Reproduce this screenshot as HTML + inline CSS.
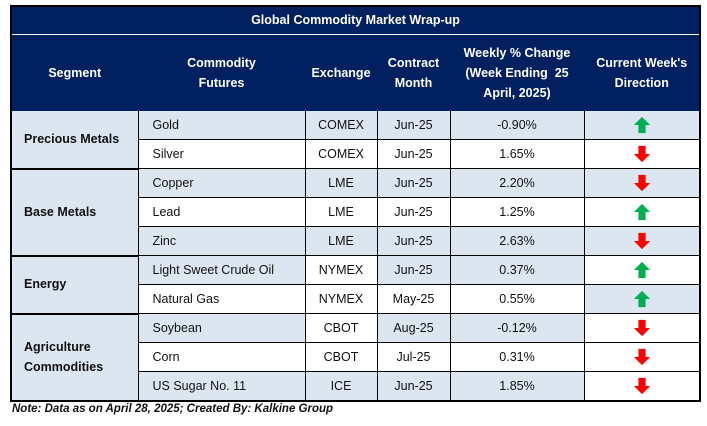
<!DOCTYPE html>
<html><head><meta charset="utf-8"><style>
body{margin:0;width:707px;height:426px;background:#fff;font-family:"Liberation Sans",Arial,sans-serif;position:relative;overflow:hidden}
table{position:absolute;left:10px;top:5px;border-collapse:collapse;table-layout:fixed;border:2px solid #000}
td{border:1px solid #000;font-size:12.5px;line-height:15px;color:#111;text-align:center;height:28px;padding:0;white-space:nowrap;overflow:hidden}
.h td{background:#002060;color:#fff;font-weight:bold;border-color:#002060}
.t td{height:27px;border-bottom:1px solid #fff}
.hd td{height:75px;line-height:20px}
.L{background:#dce6f1}
.seg{font-weight:bold;text-align:left;padding-left:12px;background:#dce6f1;border-bottom:2px solid #000}
.c{text-align:left;padding-left:14px}
svg{display:block;margin:0 auto}
.note{position:absolute;left:12px;top:403px;font-size:11.5px;font-weight:bold;font-style:italic;color:#111}
</style></head><body>
<table>
<colgroup><col style="width:127px"><col style="width:167px"><col style="width:72px"><col style="width:73px"><col style="width:134px"><col style="width:116px"></colgroup>
<tr class="h t"><td colspan="6">Global Commodity Market Wrap-up</td></tr>
<tr class="h hd"><td>Segment</td><td>Commodity<br>Futures</td><td>Exchange</td><td>Contract<br>Month</td><td>Weekly % Change<br>(Week Ending&nbsp; 25<br>April, 2025)</td><td>Current Week's<br>Direction</td></tr>
<tr><td class="seg" rowspan="2">Precious Metals</td><td class="c L">Gold</td><td class="L">COMEX</td><td class="L">Jun-25</td><td class="L">-0.90%</td><td class="L">UP</td></tr>
<tr><td class="c">Silver</td><td>COMEX</td><td>Jun-25</td><td>1.65%</td><td>DN</td></tr>
<tr><td class="seg" rowspan="3">Base Metals</td><td class="c L">Copper</td><td class="L">LME</td><td class="L">Jun-25</td><td class="L">2.20%</td><td class="L">DN</td></tr>
<tr><td class="c">Lead</td><td>LME</td><td>Jun-25</td><td>1.25%</td><td>UP</td></tr>
<tr><td class="c L">Zinc</td><td class="L">LME</td><td class="L">Jun-25</td><td class="L">2.63%</td><td class="L">DN</td></tr>
<tr><td class="seg" rowspan="2">Energy</td><td class="c L">Light Sweet Crude Oil</td><td>NYMEX</td><td class="L">Jun-25</td><td class="L">0.37%</td><td>UP</td></tr>
<tr><td class="c">Natural Gas</td><td>NYMEX</td><td>May-25</td><td>0.55%</td><td class="L">UP</td></tr>
<tr><td class="seg" rowspan="3" style="line-height:20px">Agriculture<br>Commodities</td><td class="c L">Soybean</td><td>CBOT</td><td class="L">Aug-25</td><td class="L">-0.12%</td><td>DN</td></tr>
<tr><td class="c">Corn</td><td>CBOT</td><td>Jul-25</td><td>0.31%</td><td>DN</td></tr>
<tr><td class="c L">US Sugar No. 11</td><td class="L">ICE</td><td class="L">Jun-25</td><td class="L">1.85%</td><td>DN</td></tr>
</table>
<div class="note">Note: Data as on April 28, 2025; Created By: Kalkine Group</div>
<script>
var up='<svg width="18" height="18" viewBox="0 0 20 20"><polygon points="10,1 19,10 14,10 14,19 6,19 6,10 1,10" fill="#00b050"/></svg>';
var dn='<svg width="18" height="18" viewBox="0 0 20 20"><polygon points="10,19 19,10 14,10 14,1 6,1 6,10 1,10" fill="#ff0000"/></svg>';
document.querySelectorAll('td').forEach(function(t){if(t.textContent==='UP'){t.innerHTML=up}else if(t.textContent==='DN'){t.innerHTML=dn}});
</script>
</body></html>
